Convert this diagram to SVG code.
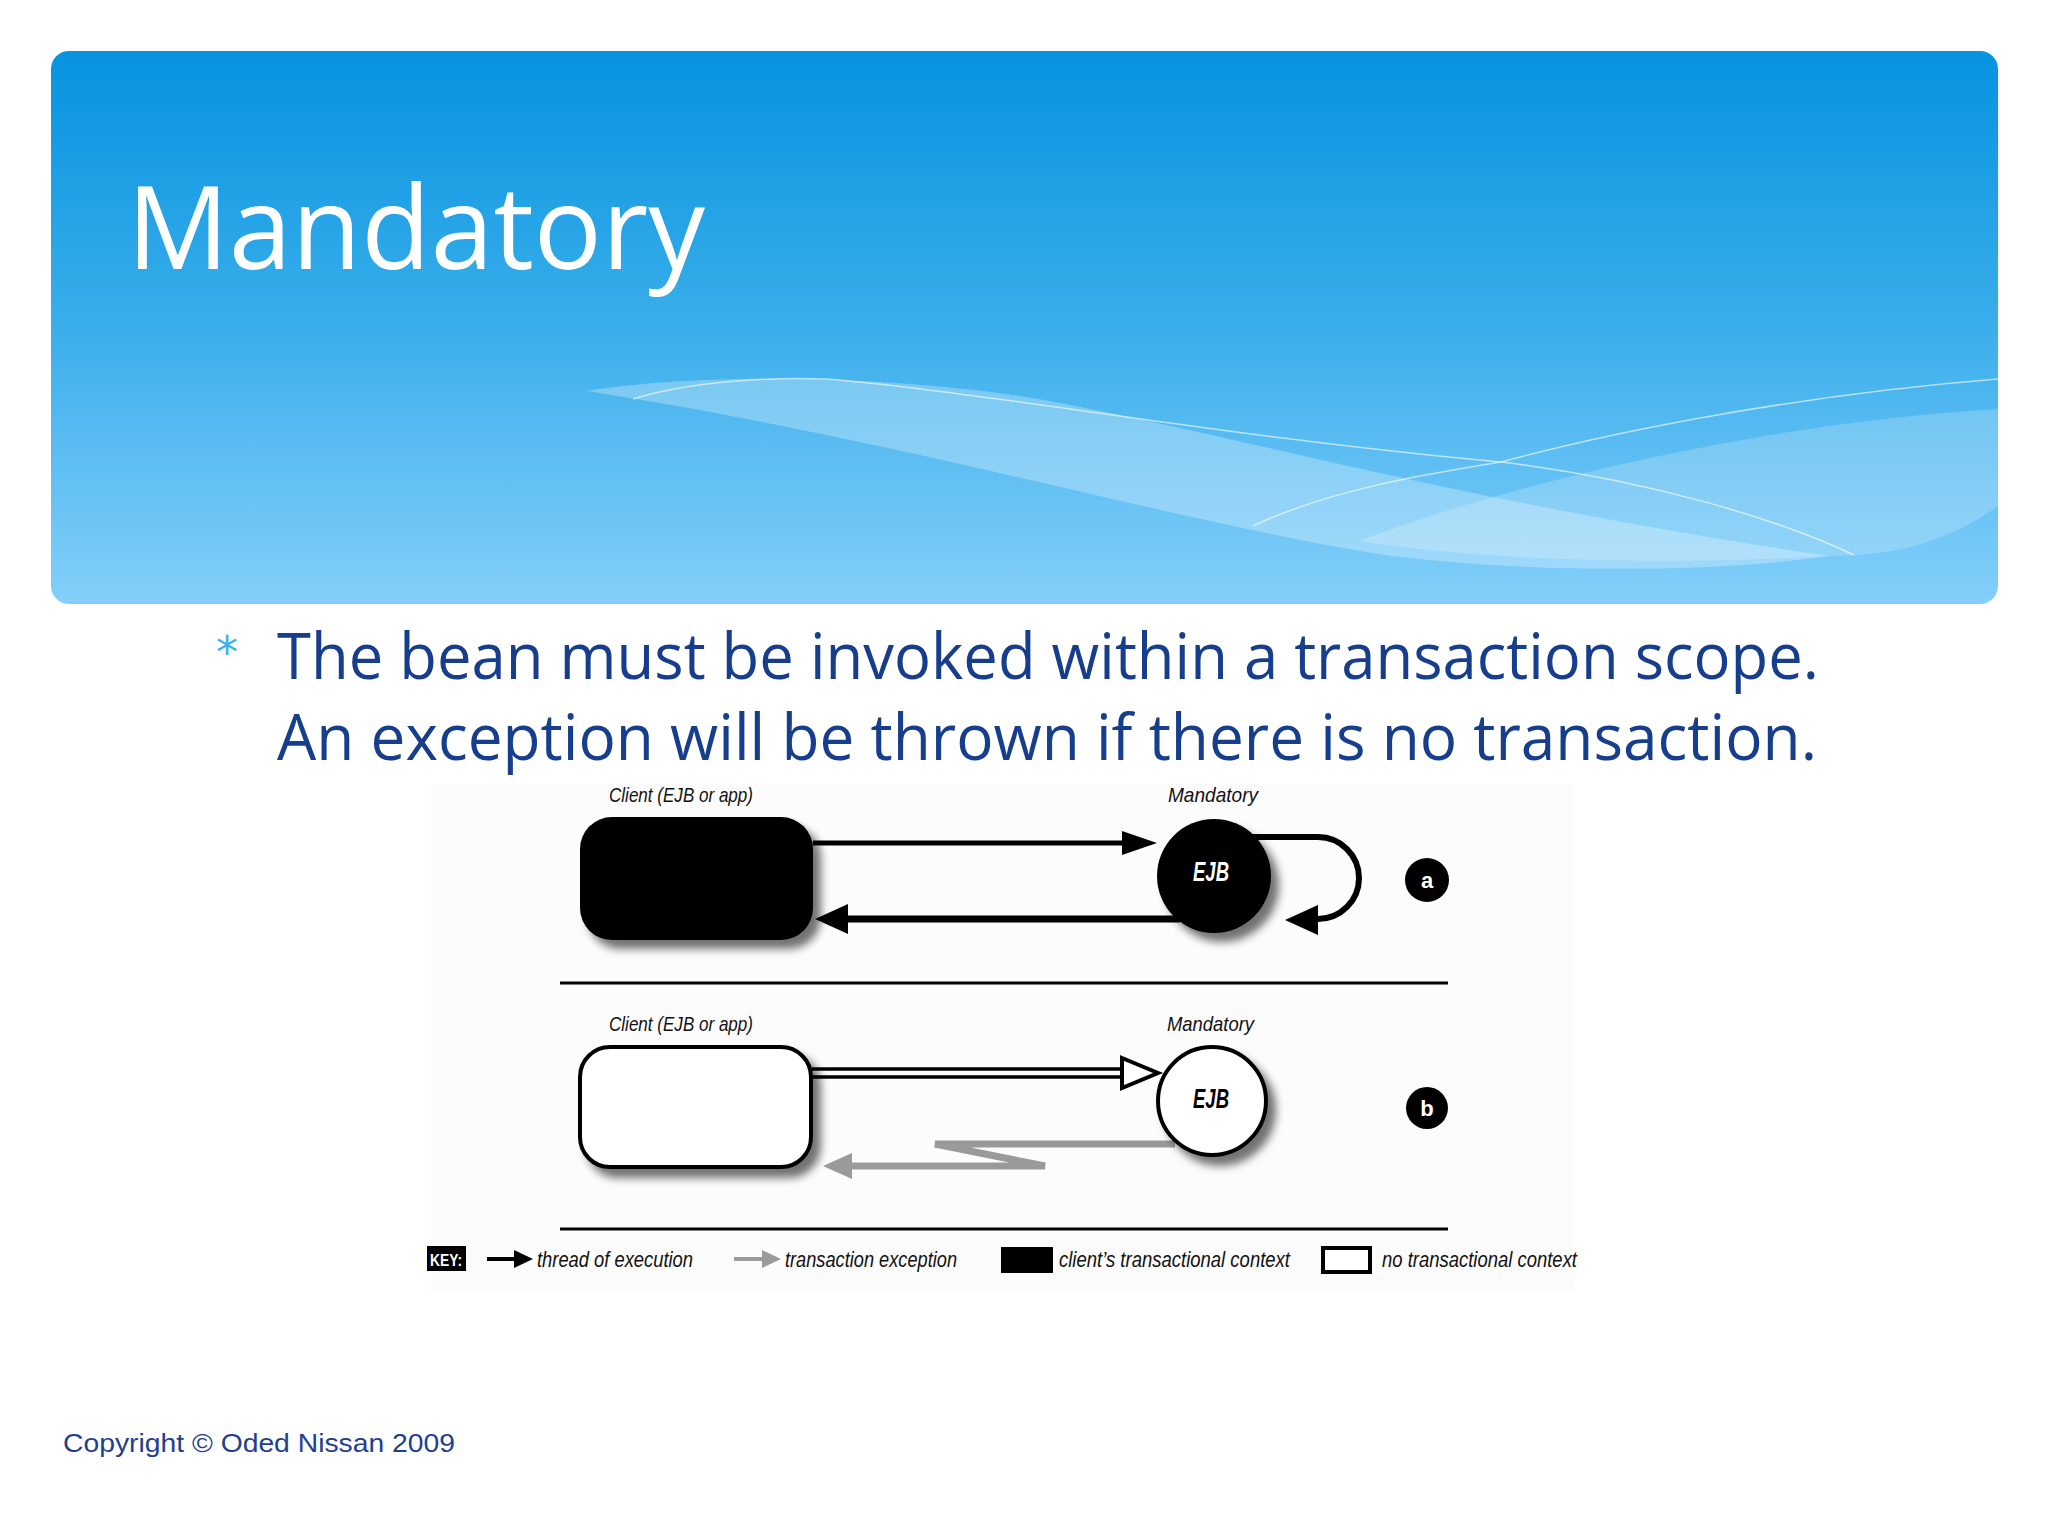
<svg xmlns="http://www.w3.org/2000/svg" width="2048" height="1536" viewBox="0 0 2048 1536">
<defs>
<linearGradient id="hdr" x1="0" y1="0" x2="0" y2="1">
<stop offset="0" stop-color="#0693df"/>
<stop offset="0.5" stop-color="#3aaeeb"/>
<stop offset="1" stop-color="#84cffa"/>
</linearGradient>
<filter id="sh" x="-20%" y="-20%" width="150%" height="150%">
<feDropShadow dx="8" dy="9" stdDeviation="4" flood-color="#000" flood-opacity="0.55"/>
</filter>
<style>
.lbl{font-family:"Liberation Sans Narrow","Liberation Sans",sans-serif;font-style:italic;font-size:21px;fill:#111}
.key{font-family:"Liberation Sans Narrow","Liberation Sans",sans-serif;font-style:italic;font-size:22px;fill:#111}
.ejb{font-family:"Liberation Sans Narrow","Liberation Sans",sans-serif;font-style:italic;font-weight:bold;font-size:27px}
.badge{font-family:"Liberation Sans",sans-serif;font-weight:bold;font-size:22px;fill:#fff}
.body{font-family:"Open Sans","Noto Sans",sans-serif;font-size:64px;fill:#173e8c}
.blk{stroke:#000;fill:none}
.gry{stroke:#9a9a9a;fill:none}
</style>
</defs>
<rect width="2048" height="1536" fill="#ffffff"/>
<!-- header -->
<g id="header">
<rect x="51" y="51" width="1947" height="553" rx="18" fill="url(#hdr)"/>
<path d="M587,391 C700,372 900,375 1044,400 C1250,438 1450,500 1830,556 C1700,575 1500,572 1371,553 C1150,515 900,440 587,391 Z" fill="#ffffff" fill-opacity="0.28"/>
<path d="M1358,541 C1550,470 1800,420 1998,409 L1998,506 C1950,540 1900,556 1830,556 C1650,566 1480,560 1358,541 Z" fill="#ffffff" fill-opacity="0.2"/>
<path d="M633,399 C700,378 800,376 849,381 C1000,395 1250,440 1501,462 C1650,480 1780,520 1854,555" fill="none" stroke="#ffffff" stroke-opacity="0.6" stroke-width="1.5"/>
<path d="M1253,526 C1330,490 1420,475 1501,462 C1620,430 1800,395 1998,379" fill="none" stroke="#ffffff" stroke-opacity="0.6" stroke-width="1.5"/>
<text x="127" y="269" font-family="Open Sans, Noto Sans, sans-serif" font-size="116" fill="#ffffff" textLength="578" lengthAdjust="spacingAndGlyphs">Mandatory</text>
</g>
<!-- bullet text -->
<g id="bullet">
<text x="216" y="668" font-family="DejaVu Sans, sans-serif" font-size="44" fill="#3cb1ef">*</text>
<text class="body" x="277" y="679" textLength="1542" lengthAdjust="spacingAndGlyphs">The bean must be invoked within a transaction scope.</text>
<text class="body" x="277" y="760" textLength="1540" lengthAdjust="spacingAndGlyphs">An exception will be thrown if there is no transaction.</text>
</g>
<!-- diagram backdrop -->
<rect x="431" y="784" width="1143" height="509" fill="#fcfcfd"/>
<!-- connectors -->
<g id="connectors">
<line class="blk" x1="813" y1="843" x2="1124" y2="843" stroke-width="5"/>
<polygon points="1157,843 1122,831 1122,855" fill="#000"/>
<line class="blk" x1="1180" y1="919" x2="845" y2="919" stroke-width="7"/>
<polygon points="815,919 848,904 848,934" fill="#000"/>
<path class="blk" d="M1250,837 H1318 A41,41 0 0 1 1318,919" stroke-width="6"/>
<polygon points="1285,920 1318,905 1318,935" fill="#000"/>
<line class="blk" x1="812" y1="1069" x2="1124" y2="1069" stroke-width="3.5"/>
<line class="blk" x1="812" y1="1077" x2="1124" y2="1077" stroke-width="3.5"/>
<polygon points="1122,1058 1158,1073 1122,1088" fill="#fff" stroke="#000" stroke-width="4" stroke-linejoin="miter"/>
<polyline class="gry" points="1175,1144 935,1144 1045,1166 850,1166" stroke-width="7" stroke-linejoin="miter"/>
<polygon points="823,1166 852,1153 852,1179" fill="#9a9a9a"/>
<line class="blk" x1="560" y1="983" x2="1448" y2="983" stroke-width="3"/>
<line class="blk" x1="560" y1="1229" x2="1448" y2="1229" stroke-width="3"/>
</g>
<!-- scenario a -->
<g id="client-a">
<rect x="580" y="817" width="233" height="123" rx="32" fill="#000" filter="url(#sh)"/>
<text class="lbl" x="609" y="802" textLength="144" lengthAdjust="spacingAndGlyphs">Client (EJB or app)</text>
</g>
<g id="ejb-a">
<circle cx="1214" cy="876" r="57" fill="#000" filter="url(#sh)"/>
<text class="ejb" x="1211" y="881" text-anchor="middle" fill="#fff" textLength="36" lengthAdjust="spacingAndGlyphs">EJB</text>
<text class="lbl" x="1168" y="802" textLength="90" lengthAdjust="spacingAndGlyphs">Mandatory</text>
</g>
<g id="badge-a">
<circle cx="1427" cy="880" r="22" fill="#000"/>
<text class="badge" x="1427" y="888" text-anchor="middle">a</text>
</g>
<!-- scenario b -->
<g id="client-b">
<rect x="580" y="1047" width="231" height="120" rx="30" fill="#fff" stroke="#000" stroke-width="4" filter="url(#sh)"/>
<text class="lbl" x="609" y="1031" textLength="144" lengthAdjust="spacingAndGlyphs">Client (EJB or app)</text>
</g>
<g id="ejb-b">
<circle cx="1212" cy="1101" r="54" fill="#fff" stroke="#000" stroke-width="4" filter="url(#sh)"/>
<text class="ejb" x="1211" y="1108" text-anchor="middle" fill="#000" textLength="36" lengthAdjust="spacingAndGlyphs">EJB</text>
<text class="lbl" x="1167" y="1031" textLength="87" lengthAdjust="spacingAndGlyphs">Mandatory</text>
</g>
<g id="badge-b">
<circle cx="1427" cy="1108" r="21" fill="#000"/>
<text class="badge" x="1427" y="1116" text-anchor="middle">b</text>
</g>
<!-- key -->
<g id="key">
<rect x="427" y="1246" width="39" height="25" fill="#000"/>
<text x="446" y="1266" text-anchor="middle" font-family="Liberation Sans Narrow, Liberation Sans, sans-serif" font-weight="bold" font-size="17" fill="#fff" textLength="32" lengthAdjust="spacingAndGlyphs">KEY:</text>
<line x1="487" y1="1259" x2="516" y2="1259" stroke="#000" stroke-width="4"/>
<polygon points="533,1259 514,1250 514,1268" fill="#000"/>
<text class="key" x="537" y="1267" textLength="156" lengthAdjust="spacingAndGlyphs">thread of execution</text>
<line x1="734" y1="1259" x2="764" y2="1259" stroke="#9a9a9a" stroke-width="4"/>
<polygon points="781,1259 762,1250 762,1268" fill="#9a9a9a"/>
<text class="key" x="785" y="1267" textLength="172" lengthAdjust="spacingAndGlyphs">transaction exception</text>
<rect x="1001" y="1247" width="52" height="26" fill="#000"/>
<text class="key" x="1059" y="1267" textLength="231" lengthAdjust="spacingAndGlyphs">client’s transactional context</text>
<rect x="1323" y="1248" width="47" height="24" fill="#fff" stroke="#000" stroke-width="4"/>
<text class="key" x="1382" y="1267" textLength="195" lengthAdjust="spacingAndGlyphs">no transactional context</text>
</g>
<!-- footer -->
<text x="63" y="1452" font-family="Liberation Sans, Arial, sans-serif" font-size="26" fill="#1f3f8f" textLength="392" lengthAdjust="spacingAndGlyphs">Copyright © Oded Nissan 2009</text>
</svg>
